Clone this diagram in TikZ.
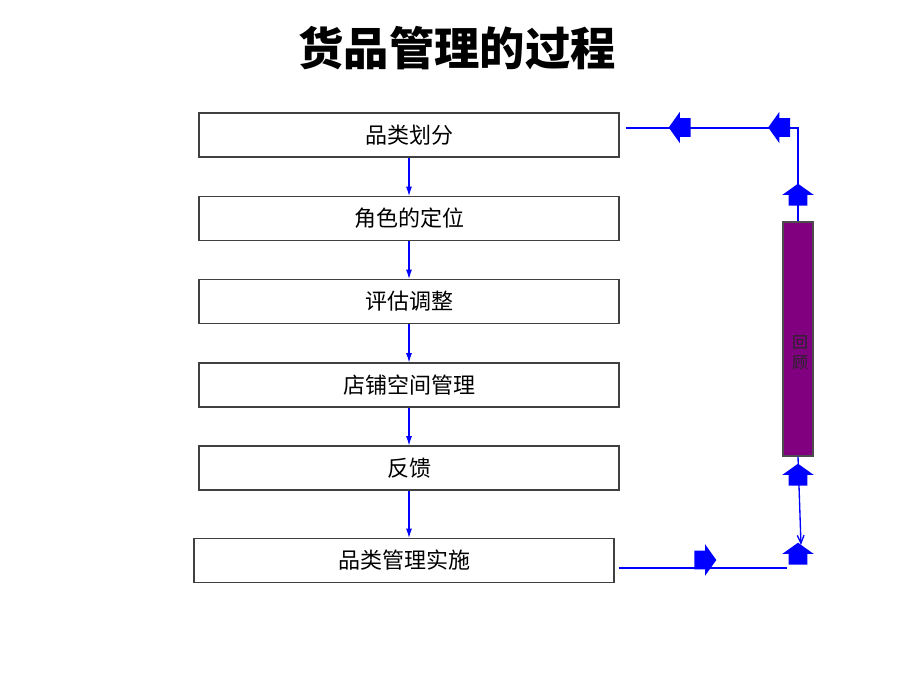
\documentclass[tikz,border=0pt]{standalone}
\usepackage{fontspec}
\setmainfont{Noto Sans CJK SC}
\usepackage{tikz}
\usetikzlibrary{arrows.meta,positioning,shapes.arrows}
\definecolor{fbblue}{RGB}{0,0,255}
\definecolor{rvpurple}{RGB}{128,0,128}
\tikzset{
  stepbox/.style={draw=black!75, line width=0.8pt, minimum width=315pt, minimum height=33pt, font=\fontsize{16.5}{19}\selectfont},
  flow/.style={draw=fbblue, line width=0.8pt, -{Latex[length=7pt,width=4.5pt]}},
  fbline/.style={draw=fbblue, line width=1pt},
  blk/.style={single arrow, fill=fbblue, inner xsep=0pt, inner ysep=6.75pt, minimum height=16.5pt, single arrow head extend=4.9pt, single arrow tip angle=109, rotate=#1},
  ttl/.style={font=\fontsize{34}{40}\selectfont\bfseries}
}

\begin{document}
\begin{tikzpicture}[x=0.75pt, y=-0.75pt]
\useasboundingbox (0,0) rectangle (920,690);
\node[ttl] (title) at (457,48) {货品管理的过程};
% steps
\node[stepbox] (cat)  at (409,135)   {品类划分};
\node[stepbox] (role) at (409,218.5) {角色的定位};
\node[stepbox] (eval) at (409,301.5) {评估调整};
\node[stepbox] (shop) at (409,385)   {店铺空间管理};
\node[stepbox] (fb)   at (409,468)   {反馈};
\node[stepbox] (impl) at (404,560.5) {品类管理实施};
\draw[flow] (cat) -- (role);
\draw[flow] (role) -- (eval);
\draw[flow] (eval) -- (shop);
\draw[flow] (shop) -- (fb);
\draw[flow] (fb.south) -- (fb.south |- impl.north);
% review loop
\node[draw=black!70, line width=0.8pt, fill=rvpurple, minimum width=22.5pt, minimum height=175.5pt, inner sep=0pt] (review) at (798,339) {};
\node[font=\fontsize{12}{15}\selectfont, text=black!85, align=center, inner sep=0pt] (rvtext) at (800,353) {回\\顾};
\coordinate (tr) at (798,128);
\coordinate (br) at (801,545);
\coordinate (bl) at (787,568);
\draw[fbline] ([xshift=4.5pt]cat.east |- tr) -- (tr) -- (review.north);
\draw[fbline, -{Straight Barb[length=6pt,width=5pt]}] (review.south) -- (br);
\draw[fbline] ([xshift=3pt]impl.east |- bl) -- (bl);
\node[blk=180] (la1) at (683,127.5) {};
\node[blk=180] (la2) at (782.5,127.5) {};
\node[blk=90]  (ua1) at (798,198) {};
\node[blk=90]  (ua2) at (798,478) {};
\node[blk=90]  (ua3) at (798,557) {};
\node[blk=0]   (ra1) at (702,560) {};
\end{tikzpicture}
\end{document}
